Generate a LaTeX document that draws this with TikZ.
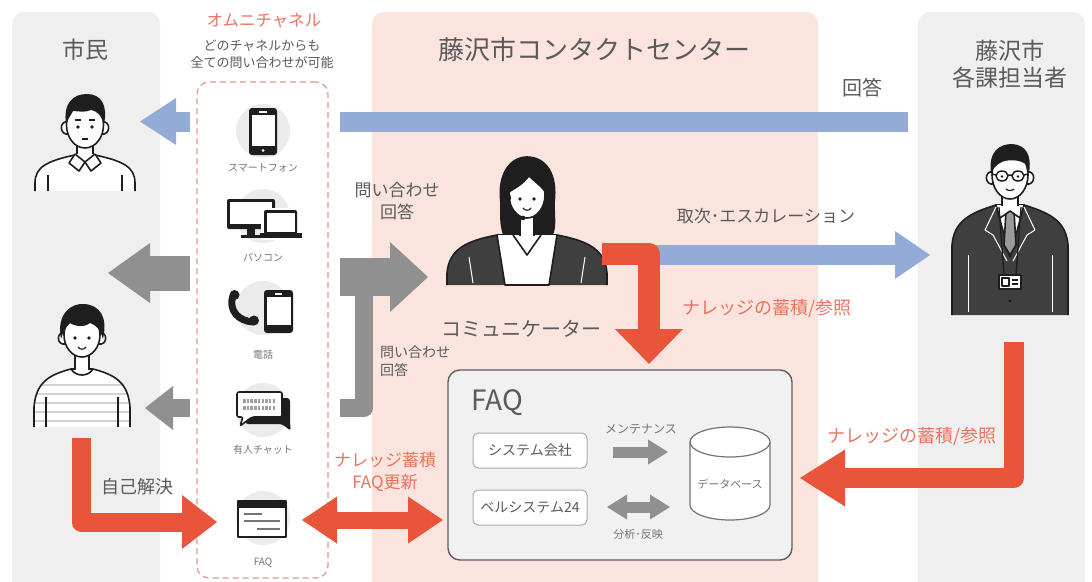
\documentclass[tikz,border=0pt]{standalone}
\usepackage{fontspec}
\setmainfont{Noto Sans CJK JP}
\usetikzlibrary{arrows.meta,positioning,calc}
\definecolor{sidegray}{HTML}{EFEFEF}
\definecolor{centerpink}{HTML}{FCE4DE}
\definecolor{ink}{HTML}{5A5A5A}
\definecolor{softink}{HTML}{747474}
\definecolor{salmon}{HTML}{E8735F}
\definecolor{flowred}{HTML}{E9553B}
\definecolor{flowblue}{HTML}{93ABD7}
\definecolor{flowgray}{HTML}{909090}
\definecolor{dashred}{HTML}{E4968A}
\definecolor{iconbg}{HTML}{EBEBEB}
\definecolor{faqfill}{HTML}{F1F1F1}
\definecolor{faqedge}{HTML}{5F5F5F}
\definecolor{boxedge}{HTML}{AAAAAA}
\definecolor{hair}{HTML}{1E1E1E}
\definecolor{suit}{HTML}{3F3F3F}
\definecolor{tiegray}{HTML}{9A9A9A}
\definecolor{stripe}{HTML}{D2D2D2}
\newcommand\fz[2]{\fontsize{#1}{#2}\selectfont}
\tikzset{
  panel/.style={fill=#1, draw=none, rounded corners=12pt},
  inktext/.style={text=ink, inner sep=0pt, align=center},
  redtext/.style={text=salmon, inner sep=0pt, align=center},
  icontext/.style={text=softink, inner sep=0pt, font=\fz{10}{12}},
  chanbox/.style={draw=dashred, dash pattern=on 6pt off 4pt, line width=1.2pt,
                  rounded corners=12pt, fill=white, minimum width=131pt,
                  minimum height=496pt, inner sep=0pt},
  faqbox/.style={draw=faqedge, fill=faqfill, line width=1.4pt, rounded corners=12pt,
                 minimum width=344pt, minimum height=190pt, inner sep=0pt},
  firm/.style={draw=boxedge, fill=white, line width=1pt, rounded corners=5pt,
               minimum width=114pt, minimum height=35pt, inner sep=0pt,
               text=ink, font=\fz{14}{16}},
  fathead/.style 2 args={-{Triangle[length=#1,width=#2,line width=0pt]}},
  bothheads/.style 2 args={{Triangle[length=#1,width=#2,line width=0pt]}-{Triangle[length=#1,width=#2,line width=0pt]}},
  outline/.style={draw=hair, line width=1.6pt},
}
\begin{document}
\begin{tikzpicture}[x=1pt,y=-1pt,line join=round]
  \useasboundingbox (0,0) rectangle (1092,581);
  \clip (0,0) rectangle (1092,581);

  % ===== the three columns =====
  \fill[panel=sidegray] (12,12) rectangle (160,600);
  \fill[panel=centerpink] (372,12) rectangle (818,600);
  \fill[panel=sidegray] (918,12) rectangle (1085,600);

  \node[inktext,font=\fz{23}{27}] (citizen) at (85,50) {市民};
  \node[inktext,font=\fz{26}{30}] (centre) at (594,50) {藤沢市コンタクトセンター};
  \node[inktext,font=\fz{23}{27}] (staff) at (1010,64) {藤沢市\\各課担当者};

  % ===== omni-channel column =====
  \node[redtext,font=\fz{16.5}{20}] (omni) at (264,21) {オムニチャネル};
  \node[inktext,font=\fz{13}{17}] (omnisub) at (262,54) {どのチャネルからも\\全ての問い合わせが可能};
  \node[chanbox] (channels) at (262.5,330) {};

  \foreach \y in {131,216,308,410,518}
    \fill[iconbg] (263,\y) circle (27);

  % smartphone
  \fill[hair,rounded corners=3pt] (249,108) rectangle (277,155);
  \fill[white] (251.5,115) rectangle (274.5,146);
  \fill[white] (259,111) rectangle (267,112.5);
  \fill[white] (263,150.5) circle (1.5);
  % desktop and laptop
  \fill[hair,rounded corners=2pt] (227,199) rectangle (275,229);
  \fill[white] (230,202) rectangle (272,224);
  \fill[hair] (247,229) rectangle (255,235);
  \fill[hair] (241,234.5) rectangle (261,237.5);
  \fill[white] (261,207.5) rectangle (300,240);
  \fill[hair,rounded corners=2pt] (264,210) rectangle (297,234);
  \fill[white] (266.5,212.5) rectangle (294.5,231.5);
  \fill[hair] (260,233) rectangle (302,237.5);
  % handset and mobile
  \draw[hair,line width=7pt,line cap=round] (233,296) .. controls (228,311) and (239,321) .. (253,322);
  \fill[hair] (234.5,295) circle (5) (254,320.5) circle (5);
  \fill[hair,rounded corners=3pt] (264,290) rectangle (293,333);
  \fill[white] (266.5,297) rectangle (290.5,325);
  \fill[white] (275,293) rectangle (282,294.5);
  % chat bubbles
  \fill[hair,rounded corners=3pt] (245,398) -- (290,398) -- (290,424) -- (291,431) -- (282,424) -- (245,424) -- cycle;
  \draw[outline,fill=white,rounded corners=2pt] (237,392) -- (282,392) -- (282,417) -- (252,417) -- (240,426) -- (243,417) -- (237,417) -- cycle;
  \draw[softink!70,line width=3.5pt,dash pattern=on 2.5pt off 1.2pt] (243,401) -- (276,401);
  \draw[softink!70,line width=3.5pt,dash pattern=on 2.5pt off 1.2pt] (243,408) -- (276,408);
  % FAQ window
  \draw[outline,fill=white] (238,501) rectangle (286,537);
  \fill[hair] (238,501) rectangle (286,508);
  \draw[softink,line width=1.8pt] (244,514) -- (262,514) (244,521) -- (280,521) (257,529) -- (280,529);

  \node[icontext] (phone-lbl) at (263,168) {スマートフォン};
  \node[icontext] (pc-lbl) at (263,258) {パソコン};
  \node[icontext] (tel-lbl) at (263,355) {電話};
  \node[icontext] (chat-lbl) at (263,450) {有人チャット};
  \node[icontext] (faqicon-lbl) at (263,563) {FAQ};

  % ===== FAQ system =====
  \node[faqbox] (faq) at (620,465) {};
  \node[inktext,font=\fz{28}{32},anchor=west] (faq-title) at (471,403) {FAQ};
  \node[firm] (sysco) at (530,450.5) {システム会社};
  \node[firm] (bell) at (530,507.5) {ベルシステム24};
  \draw[draw=softink,line width=1.2pt,fill=white] (690,442) -- (690,505)
    arc[start angle=180,end angle=0,x radius=40,y radius=15] -- (770,442);
  \draw[draw=softink,line width=1.2pt,fill=white] (730,442) ellipse [x radius=40,y radius=15];
  \node[text=softink,inner sep=0pt,font=\fz{11}{13}] (db) at (730,484) {データベース};
  \node[text=softink,inner sep=0pt,font=\fz{12}{14}] (maint-lbl) at (641,429) {メンテナンス};
  \node[text=softink,inner sep=0pt,font=\fz{11}{13}] (analyse-lbl) at (638,534) {分析･反映};
  \coordinate (maint-a) at (613,452);
  \coordinate (maint-b) at (668,452);
  \coordinate (analyse-a) at (607,507);
  \coordinate (analyse-b) at (670,507);
  \draw[flowgray,line width=11pt,fathead={20pt}{25pt}] (maint-a) -- (maint-b);
  \draw[flowgray,line width=11pt,bothheads={20pt}{25pt}] (analyse-a) -- (analyse-b);

  % ===== people =====
  % citizen with collar
  \begin{scope}[shift={(85,125)},outline]
    \draw[fill=white] (-50,66) -- (-50,58) .. controls (-50,42) and (-38,36) .. (-10,30) -- (10,30) .. controls (38,36) and (50,42) .. (50,58) -- (50,66);
    \draw (-37,50) -- (-37,66) (37,50) -- (37,66);
    \fill[white] (-8,16) rectangle (8,32);
    \draw (-8,16) -- (-8,31) (8,16) -- (8,31);
    \draw[fill=white] (-10,29) -- (-16,38) -- (-6,46) -- (0,37) -- (6,46) -- (16,38) -- (10,29);
    \draw (-10,29) -- (0,37) -- (10,29);
    \draw[fill=white] (-17,-3) .. controls (-26,-5) and (-26,11) .. (-16,9);
    \draw[fill=white] (17,-3) .. controls (26,-5) and (26,11) .. (16,9);
    \draw[fill=white] (0,0) ellipse [x radius=18.5,y radius=23];
    \fill[hair] (-19,-1) .. controls (-22,-22) and (-12,-31) .. (2,-31) .. controls (16,-31) and (23,-20) .. (19,-1)
      .. controls (16,-10) and (12,-14) .. (6,-15) .. controls (0,-12) and (-8,-14) .. (-12,-14)
      .. controls (-14,-10) and (-17,-6) .. (-19,-1) -- cycle;
    \fill[hair] (-7,2) circle (1.8) (7,2) circle (1.8);
    \draw[line width=1.2pt] (-10,-5) -- (-4,-5) (4,-5) -- (10,-5) (-3,14) -- (3,14);
  \end{scope}

  % citizen in a striped shirt
  \begin{scope}[shift={(82,335)},outline]
    \begin{scope}
      \clip (-48,92) -- (-48,72) .. controls (-46,48) and (-34,40) .. (-11,34) -- (11,34) .. controls (34,40) and (46,48) .. (48,72) -- (48,92) -- cycle;
      \fill[white] (-50,30) rectangle (50,95);
      \foreach \s in {50,59,...,92}
        \draw[stripe,line width=2.6pt] (-50,\s) -- (50,\s);
    \end{scope}
    \draw (-48,92) -- (-48,72) .. controls (-46,48) and (-34,40) .. (-11,34) -- (11,34) .. controls (34,40) and (46,48) .. (48,72) -- (48,92);
    \draw (-36,62) -- (-36,92) (36,62) -- (36,92);
    \fill[white] (-7,18) rectangle (7,36);
    \draw (-7,18) -- (-7,35) (7,18) -- (7,35);
    \draw (-11,34) .. controls (-6,42) and (6,42) .. (11,34);
    \draw[fill=white] (-17,-2) .. controls (-26,-4) and (-26,11) .. (-16,9);
    \draw[fill=white] (17,-2) .. controls (26,-4) and (26,11) .. (16,9);
    \draw[fill=white] (0,0) ellipse [x radius=18,y radius=22];
    \fill[hair] (-21,4) .. controls (-26,-22) and (-10,-32) .. (2,-31) .. controls (18,-30) and (26,-18) .. (21,4)
      .. controls (18,-6) and (14,-10) .. (8,-12) .. controls (2,-7) and (-8,-9) .. (-12,-12)
      .. controls (-16,-8) and (-19,-3) .. (-21,4) -- cycle;
    \fill[hair] (-7,3) circle (1.8) (7,3) circle (1.8);
    \draw[line width=1.2pt] (-4,12) .. controls (-2,15) and (2,15) .. (4,12);
  \end{scope}

  % communicator with headset
  \begin{scope}[shift={(527,195)},outline]
    \draw[fill=hair] (-26,8) .. controls (-30,-22) and (-16,-38) .. (0,-38) .. controls (18,-38) and (31,-22) .. (27,8)
      .. controls (27,22) and (29,32) .. (25,40) -- (-23,40) .. controls (-27,30) and (-26,20) .. (-26,8) -- cycle;
    \draw[fill=suit] (-80,90) -- (-80,78) .. controls (-78,55) and (-62,46) .. (-30,40) -- (30,40) .. controls (62,46) and (78,55) .. (80,78) -- (80,90);
    \draw[fill=white] (-30,40) -- (-22,90) -- (22,90) -- (30,40);
    \draw[white,line width=1pt] (-58,62) -- (-54,88) (58,62) -- (54,88);
    \fill[white] (-7,14) rectangle (7,42);
    \draw (-7,14) -- (-7,41) (7,14) -- (7,41);
    \draw (-14,40) -- (0,60) -- (14,40);
    \draw[fill=white] (0,0) ellipse [x radius=18,y radius=23];
    \fill[hair] (-18.5,-2) .. controls (-19,-22) and (-6,-28) .. (4,-26) .. controls (14,-24) and (20,-14) .. (18.5,-2)
      .. controls (12,-10) and (6,-14) .. (2,-18) .. controls (-4,-10) and (-12,-6) .. (-18.5,-2) -- cycle;
    \fill[hair] (-7,4) circle (1.8) (7,4) circle (1.8);
    \draw[line width=1.2pt] (-4,13) .. controls (-2,16) and (2,16) .. (4,13);
    \fill[hair] (-19,3) ellipse [x radius=3,y radius=5];
    \draw[line width=1.5pt] (-19,6) .. controls (-20,18) and (-12,24) .. (-4,23);
    \fill[hair] (-4,23) circle (2.3);
  \end{scope}

  % city staff member
  \begin{scope}[shift={(1010,175)},outline]
    \draw[fill=suit] (-58,140) -- (-58,70) .. controls (-56,46) and (-40,38) .. (-14,30) -- (14,30) .. controls (40,38) and (56,46) .. (58,70) -- (58,140);
    \draw[fill=white] (-14,30) -- (0,82) -- (14,30) -- cycle;
    \draw[fill=tiegray] (-4,36) -- (4,36) -- (6,70) -- (0,80) -- (-6,70) -- cycle;
    \draw[fill=white] (-14,30) -- (-10,43) -- (0,36) -- (10,43) -- (14,30);
    \draw[white,line width=1pt] (-14,32) -- (-25,55) -- (-17,60) -- (-3,86) (14,32) -- (25,55) -- (17,60) -- (3,86);
    \draw[white,line width=1pt] (-42,80) -- (-42,137) (42,80) -- (42,137);
    \draw[line width=1.3pt] (-11,32) -- (-6,100) (11,32) -- (6,100);
    \draw[fill=white,line width=1.5pt] (-11,100) rectangle (11,114);
    \draw[line width=1.2pt] (-8,103) rectangle (-1,111) (2,105) -- (8,105) (2,109) -- (8,109);
    \fill[hair] (0,126) circle (1.6);
    \fill[white] (-8,15) rectangle (8,31);
    \draw (-8,15) -- (-8,31) (8,15) -- (8,31);
    \draw[fill=white] (-17,-3) .. controls (-26,-5) and (-26,11) .. (-16,9);
    \draw[fill=white] (17,-3) .. controls (26,-5) and (26,11) .. (16,9);
    \draw[fill=white] (0,0) ellipse [x radius=18,y radius=24];
    \fill[hair] (-19,-2) .. controls (-22,-24) and (-10,-31) .. (2,-31) .. controls (16,-30) and (22,-20) .. (19,-2)
      -- (17,-10) .. controls (10,-16) and (-4,-16) .. (-10,-12) .. controls (-14,-10) and (-17,-6) .. (-19,-2) -- cycle;
    \draw[line width=1.5pt] (-8,1) ellipse [x radius=6,y radius=5] (8,1) ellipse [x radius=6,y radius=5]
      (-2,0) -- (2,0) (-14,0) -- (-18,-1) (14,0) -- (18,-1);
    \fill[hair] (-8,1.5) circle (1.4) (8,1.5) circle (1.4);
    \draw[line width=1.2pt] (-4,14) .. controls (-2,16) and (2,16) .. (4,14);
  \end{scope}

  \node[inktext,font=\fz{20}{24}] (communicator) at (521,329) {コミュニケーター};

  % ===== answer (blue) =====
  \coordinate (ans-from) at (908,121.5);
  \coordinate (ans-box) at (340,121.5);
  \coordinate (ans-out) at (190,121.5);
  \coordinate (ans-tip) at (140,121.5);
  \draw[flowblue,line width=20pt] (ans-from) -- (ans-box);
  \draw[flowblue,line width=20pt,fathead={36pt}{47pt}] (ans-out) -- (ans-tip);
  \node[inktext,font=\fz{20}{24}] (ans-lbl) at (862,88) {回答};

  % ===== enquiries and replies (gray) =====
  \coordinate (reply-a) at (190,273);
  \coordinate (reply-a-tip) at (108,273);
  \coordinate (reply-b) at (190,408);
  \coordinate (reply-b-tip) at (145,408);
  \coordinate (enq-low) at (340,408);
  \coordinate (enq-bend) at (364,408);
  \coordinate (enq-up) at (364,285);
  \coordinate (enq-top) at (340,277);
  \coordinate (enq-tip) at (428,277);
  \draw[flowgray,line width=35pt,fathead={42pt}{60pt}] (reply-a) -- (reply-a-tip);
  \draw[flowgray,line width=18pt,fathead={28pt}{44pt}] (reply-b) -- (reply-b-tip);
  \draw[flowgray,line width=18pt] (enq-low) -- (enq-bend) -- (enq-up);
  \draw[flowgray,line width=38pt,fathead={38pt}{70pt}] (enq-top) -- (enq-tip);
  \node[inktext,font=\fz{17}{22}] (enq-lbl) at (397,201) {問い合わせ\\回答};
  \node[inktext,font=\fz{14}{18},align=left,anchor=west] (enq-lbl2) at (380,361) {問い合わせ\\回答};

  % ===== escalation (blue) and knowledge (red) =====
  \coordinate (esc-from) at (655,255);
  \coordinate (esc-tip) at (930,255);
  \draw[flowblue,line width=20pt,fathead={35pt}{48pt}] (esc-from) -- (esc-tip);
  \node[inktext,font=\fz{17}{20}] (esc-lbl) at (766,216) {取次･エスカレーション};

  \coordinate (know-from) at (602,254);
  \coordinate (know-tip) at (649,364);
  \draw[flowred,line width=22pt,fathead={35pt}{68pt}] (know-from) -| (know-tip);
  \node[redtext,font=\fz{18}{22}] (know-lbl) at (767,309) {ナレッジの蓄積/参照};

  \coordinate (staff-from) at (1014,342);
  \coordinate (staff-tip) at (800,478);
  \draw[flowred,line width=20pt,fathead={45pt}{57pt}] (staff-from) |- (staff-tip);
  \node[redtext,font=\fz{18}{22}] (staff-lbl) at (912,437) {ナレッジの蓄積/参照};

  % ===== self service and FAQ update =====
  \coordinate (self-from) at (81,438);
  \coordinate (self-tip) at (217,522);
  \draw[flowred,line width=19pt,fathead={35pt}{54pt}] (self-from) |- (self-tip);
  \node[inktext,font=\fz{18}{22}] (self-lbl) at (137,487) {自己解決};

  \coordinate (upd-a) at (302,520);
  \coordinate (upd-b) at (443,520);
  \draw[flowred,line width=17pt,bothheads={35pt}{47pt}] (upd-a) -- (upd-b);
  \node[redtext,font=\fz{17}{22}] (upd-lbl) at (385,472) {ナレッジ蓄積\\FAQ更新};
\end{tikzpicture}
\end{document}
